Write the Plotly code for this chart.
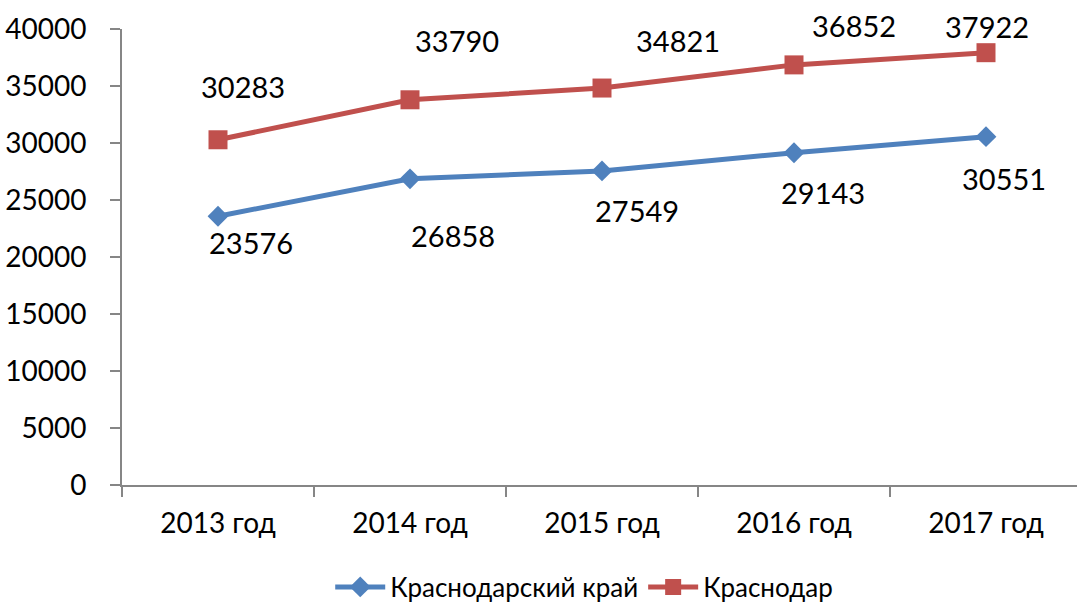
import plotly.graph_objects as go

categories = ["2013 год", "2014 год", "2015 год", "2016 год", "2017 год"]
krai = [23576, 26858, 27549, 29143, 30551]
krasnodar = [30283, 33790, 34821, 36852, 37922]
y_ticks = [0, 5000, 10000, 15000, 20000, 25000, 30000, 35000, 40000]

BLUE = "#4F81BD"
RED = "#C0504D"
FONT = "Lato"

fig = go.Figure()
fig.add_trace(go.Scatter(
    x=categories, y=krai, name="Краснодарский край", mode="lines+markers",
    line=dict(color=BLUE, width=5),
    marker=dict(symbol="diamond", size=16, color=BLUE),
))
fig.add_trace(go.Scatter(
    x=categories, y=krasnodar, name="Краснодар", mode="lines+markers",
    line=dict(color=RED, width=5),
    marker=dict(symbol="square", size=19, color=RED),
))

# label offsets (pixels) relative to the points
red_shift = [(25, 53), (47, 59), (76, 48), (60, 39), (1, 26)]
blue_shift = [(33, -26), (43, -57), (35, -40), (29, -40), (18, -42)]

for i, c in enumerate(categories):
    fig.add_annotation(x=c, y=krasnodar[i], text=str(krasnodar[i]), showarrow=False,
                       xshift=red_shift[i][0], yshift=red_shift[i][1],
                       font=dict(family=FONT, size=29, color="black"))
    fig.add_annotation(x=c, y=krai[i], text=str(krai[i]), showarrow=False,
                       xshift=blue_shift[i][0], yshift=blue_shift[i][1],
                       font=dict(family=FONT, size=29, color="black"))

fig.update_layout(
    width=1077, height=605,
    margin=dict(l=122, r=0, t=29, b=120, autoexpand=False),
    paper_bgcolor="white", plot_bgcolor="white",
    font=dict(family=FONT, size=28, color="black"),
    showlegend=True,
    legend=dict(orientation="h", x=0.484, xanchor="center",
                y=(485 - 587) / 456, yanchor="middle",
                font=dict(family=FONT, size=26, color="black"),
                itemwidth=50, tracegroupgap=0),
    xaxis=dict(
        type="category", range=[-0.5, -0.5 + 955 / 192], automargin=False,
        showline=True, linecolor="#868686", linewidth=2,
        ticks="outside", tickson="boundaries", ticklen=10, tickcolor="#868686", tickwidth=2,
        showgrid=False, zeroline=False,
        tickfont=dict(family=FONT, size=28, color="black"),
        ticklabelstandoff=12,
    ),
    yaxis=dict(
        range=[0, 40000], tickvals=y_ticks, ticktext=[str(v) for v in y_ticks], automargin=False,
        showline=True, linecolor="#868686", linewidth=2,
        ticks="outside", ticklen=10, tickcolor="#868686", tickwidth=2,
        showgrid=False, zeroline=False,
        tickfont=dict(family=FONT, size=28, color="black"),
        ticklabelstandoff=18,
    ),
)

fig.write_html("out.html", config={"displayModeBar": False},
               post_script="document.body.style.margin='0';document.body.style.overflow='hidden';")
